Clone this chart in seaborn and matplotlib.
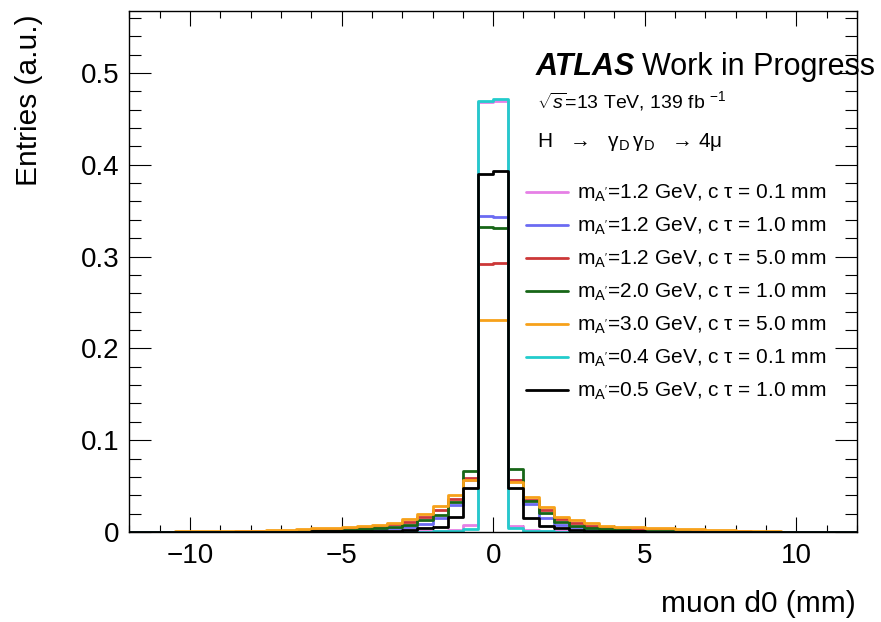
import numpy as np
import matplotlib
matplotlib.use("Agg")
import matplotlib.pyplot as plt
from matplotlib.lines import Line2D
import seaborn as sns

# ---------------- data ----------------
bin_width = 0.5
bin_range = (-12.0, 12.0)                      # 48 bins of 0.5 mm
bin_centers = np.arange(-11.75, 11.76, 0.5)

labels = [
    r"m$_{\mathrm{A'}}$=1.2 GeV, c τ = 0.1 mm",
    r"m$_{\mathrm{A'}}$=1.2 GeV, c τ = 1.0 mm",
    r"m$_{\mathrm{A'}}$=1.2 GeV, c τ = 5.0 mm",
    r"m$_{\mathrm{A'}}$=2.0 GeV, c τ = 1.0 mm",
    r"m$_{\mathrm{A'}}$=3.0 GeV, c τ = 5.0 mm",
    r"m$_{\mathrm{A'}}$=0.4 GeV, c τ = 0.1 mm",
    r"m$_{\mathrm{A'}}$=0.5 GeV, c τ = 1.0 mm",
]

violet_12_01 = [0, 0, 0, 0, 0, 0, 0, 0, 0, 0, 0, 0,
                0, 0, 0, 0, 0.0002, 0.0003, 0.0005, 0.0008, 0.0010, 0.0020, 0.0075, 0.4680,
                0.4700, 0.0065, 0.0020, 0.0010, 0.0006, 0.0003, 0.0002, 0.0001, 0, 0, 0, 0,
                0, 0, 0, 0, 0, 0, 0, 0, 0, 0, 0, 0]
blue_12_10 = [0, 0, 0, 0, 0, 0, 0.0001, 0.0001, 0.0002, 0.0003, 0.0005, 0.0008,
              0.0010, 0.0012, 0.0015, 0.0020, 0.0030, 0.0040, 0.0050, 0.0087, 0.0150, 0.0290, 0.0570, 0.3446,
              0.3430, 0.0570, 0.0300, 0.0149, 0.0076, 0.0050, 0.0033, 0.0020, 0.0015, 0.0010, 0.0008, 0.0005,
              0.0004, 0.0003, 0.0002, 0.0001, 0.0001, 0, 0, 0, 0, 0, 0, 0]
red_12_50 = [0.0002, 0.0002, 0.0002, 0.0003, 0.0003, 0.0004, 0.0005, 0.0006, 0.0008, 0.0010, 0.0013, 0.0018,
             0.0025, 0.0030, 0.0040, 0.0050, 0.0065, 0.0087, 0.0110, 0.0160, 0.0240, 0.0356, 0.0590, 0.2916,
             0.2927, 0.0566, 0.0350, 0.0240, 0.0138, 0.0094, 0.0065, 0.0050, 0.0040, 0.0035, 0.0030, 0.0025,
             0.0020, 0.0015, 0.0012, 0.0010, 0.0008, 0.0005, 0.0004, 0.0003, 0.0002, 0.0002, 0.0001, 0.0001]
green_20_10 = [0.0001, 0.0001, 0.0001, 0.0001, 0.0002, 0.0002, 0.0002, 0.0003, 0.0003, 0.0004, 0.0005, 0.0008,
               0.0012, 0.0015, 0.0020, 0.0030, 0.0040, 0.0058, 0.0076, 0.0130, 0.0185, 0.0330, 0.0668, 0.3326,
               0.3308, 0.0683, 0.0338, 0.0210, 0.0113, 0.0065, 0.0047, 0.0030, 0.0022, 0.0016, 0.0012, 0.0009,
               0.0006, 0.0004, 0.0003, 0.0002, 0.0002, 0.0001, 0.0001, 0.0001, 0, 0, 0, 0]
orange_30_50 = [0.0003, 0.0003, 0.0005, 0.0008, 0.0012, 0.0008, 0.0010, 0.0012, 0.0015, 0.0018, 0.0025, 0.0030,
                0.0040, 0.0045, 0.0058, 0.0065, 0.0076, 0.0100, 0.0138, 0.0200, 0.0283, 0.0403, 0.0566, 0.2310,
                0.2310, 0.0548, 0.0378, 0.0276, 0.0167, 0.0130, 0.0094, 0.0065, 0.0058, 0.0050, 0.0045, 0.0040,
                0.0035, 0.0030, 0.0025, 0.0020, 0.0015, 0.0012, 0.0008, 0.0005, 0.0003, 0.0002, 0.0002, 0.0002]
cyan_04_01 = [0, 0, 0, 0, 0, 0, 0, 0, 0, 0, 0, 0,
              0, 0, 0, 0, 0.0001, 0.0002, 0.0003, 0.0004, 0.0006, 0.0015, 0.0035, 0.4700,
              0.4720, 0.0040, 0.0012, 0.0006, 0.0004, 0.0003, 0.0002, 0.0001, 0.0001, 0, 0, 0,
              0, 0, 0, 0, 0, 0, 0, 0, 0, 0, 0, 0]
black_05_10 = [0, 0, 0, 0, 0, 0, 0, 0.0001, 0.0002, 0.0003, 0.0004, 0.0005,
               0.0006, 0.0007, 0.0008, 0.0010, 0.0012, 0.0015, 0.0025, 0.0040, 0.0058, 0.0167, 0.0476, 0.3900,
               0.3930, 0.0476, 0.0149, 0.0065, 0.0040, 0.0020, 0.0015, 0.0010, 0.0008, 0.0006, 0.0005, 0.0004,
               0.0003, 0.0002, 0.0001, 0.0001, 0, 0, 0, 0, 0, 0, 0, 0]

series = [violet_12_01, blue_12_10, red_12_50, green_20_10, orange_30_50, cyan_04_01, black_05_10]
colors = ["#e680e6", "#6b6bf2", "#cc3838", "#176617", "#f7a11a", "#22cccc", "#000000"]

# ---------------- style ----------------
sns.set_style("ticks")
plt.rcParams["font.family"] = ["Liberation Sans", "DejaVu Sans"]
plt.rcParams["mathtext.fontset"] = "custom"
plt.rcParams["mathtext.rm"] = "Liberation Sans"
plt.rcParams["mathtext.it"] = "Liberation Sans:italic"
plt.rcParams["mathtext.bf"] = "Liberation Sans:bold"
for key in ["text.color", "axes.labelcolor", "xtick.color", "ytick.color", "axes.edgecolor"]:
    plt.rcParams[key] = "black"

W, H = 881, 622
fig = plt.figure(figsize=(W / 100, H / 100), dpi=100)
ax = fig.add_axes([129.3 / W, 1 - 532 / H, (857 - 129.3) / W, (532 - 11) / H])

for vals, col in zip(series, colors):
    sns.histplot(x=list(bin_centers), weights=list(vals), binwidth=bin_width, binrange=bin_range,
                 element="step", fill=False, color=col, linewidth=2.0, ax=ax)

leg_handles = [Line2D([], [], color=c, lw=2.0) for c in colors]

ax.set_xlim(-12, 12)
ax.set_ylim(0, 0.5675)
ax.set_xticks([-10, -5, 0, 5, 10])
ax.set_xticks(np.arange(-12, 12.1, 1), minor=True)
ax.set_yticks([0, 0.1, 0.2, 0.3, 0.4, 0.5])
ax.set_yticklabels(["0", "0.1", "0.2", "0.3", "0.4", "0.5"])
ax.set_yticks(np.arange(0, 0.567, 0.02), minor=True)

for s in ax.spines.values():
    s.set_linewidth(1.0)
    s.set_color("black")
ax.tick_params(axis="both", which="both", direction="in", top=True, right=True,
               width=0.8, color="black", labelcolor="black", labelsize=20)
ax.tick_params(axis="x", which="major", length=10.5, pad=8)
ax.tick_params(axis="x", which="minor", length=5.2)
ax.tick_params(axis="y", which="major", length=16, pad=7)
ax.tick_params(axis="y", which="minor", length=8.5)

ax.set_xlabel("muon d0 (mm)", fontsize=21.5, loc="right")
ax.set_ylabel("Entries (a.u.)", fontsize=21.5, loc="top")
ax.xaxis.set_label_coords((856 - 129.3) / (857 - 129.3), (532 - 590) / 521)
ax.yaxis.set_label_coords((43 - 129.3) / (857 - 129.3), (532 - 14) / 521)

fig.text(536 / W, 1 - 75 / H, "ATLAS", fontsize=22, weight="bold", style="italic", va="baseline")
fig.text(642 / W, 1 - 75 / H, "Work in Progress", fontsize=22, va="baseline")
fig.text(537 / W, 1 - 108 / H, r"$\sqrt{s}$=13 TeV, 139 fb $^{-1}$", fontsize=14, va="baseline")
fig.text(537 / W, 1 - 147 / H,
         r"H   →   γ$_{\mathrm{D}}\,$γ$_{\mathrm{D}}$   → 4μ",
         fontsize=15, va="baseline")

ax.legend(leg_handles, labels, loc="upper left", bbox_to_anchor=(526 / W, 1 - 183 / H),
          bbox_transform=fig.transFigure, frameon=False, fontsize=15,
          handlelength=2.0, handletextpad=0.45, labelspacing=0.56,
          borderpad=0, borderaxespad=0)

fig.savefig("out.png", dpi=100)
